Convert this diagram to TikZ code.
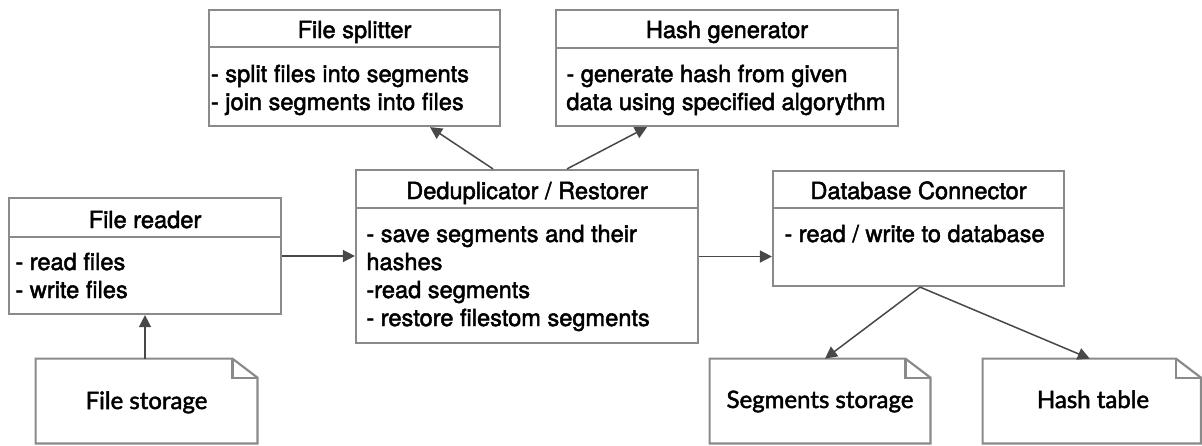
\documentclass[tikz,border=0pt]{standalone}
\usepackage{fontspec}
\setmainfont[FakeBold=2]{TeX Gyre Heros}
\newfontfamily\notefont[FakeBold=2]{Lato}
\usetikzlibrary{arrows.meta,fit,calc}

\definecolor{boxgray}{RGB}{138,138,138}
\definecolor{arrowgray}{RGB}{72,72,72}

\begin{document}
\begin{tikzpicture}[x=0.5pt,y=-0.5pt,
  box/.style={draw=boxgray, line width=1.1pt, inner sep=0pt, fill=white},
  sheet/.style={inner sep=0pt},
  sheetline/.style={draw=boxgray, line width=1.1pt, line join=miter},
  divider/.style={draw=boxgray, line width=1.1pt},
  title/.style={anchor=base, inner sep=0pt, font=\fontsize{11.8}{14}\selectfont},
  body/.style={anchor=base west, inner sep=0pt, font=\fontsize{11.8}{14}\selectfont},
  sheettext/.style={anchor=base, inner sep=0pt, font=\notefont\fontsize{12}{14}\selectfont},
  link/.style={draw=arrowgray, line width=0.75pt, -{Triangle[length=6pt,width=6pt]}}]

\useasboundingbox (0,0) rectangle (1202,445);

% ---- class boxes ----
\node[box, fit={(209,10)(500,126)}] (fs) {};
\draw[divider] (209,47) -- (500,47);
\node[title] at (354.5,38) {File splitter};
\node[body] at (210.5,82) {- split files into segments};
\node[body] at (210.5,110) {- join segments into files};

\node[box, fit={(556,10)(898,126)}] (hg) {};
\draw[divider] (556,48) -- (898,48);
\node[title] at (727,38) {Hash generator};
\node[body] at (566,82) {- generate hash from given};
\node[body] at (566,110) {data using specified algorythm};

\node[box, fit={(9,198)(281,314)}] (fr) {};
\draw[divider] (9,237) -- (281,237);
\node[title] at (145,228) {File reader};
\node[body] at (15,270) {- read files};
\node[body] at (15,298) {- write files};

\node[box, fit={(356,170)(698,343)}] (dd) {};
\draw[divider] (356,208) -- (698,208);
\node[title] at (527,199) {Deduplicator / Restorer};
\node[body] at (366,242) {- save segments and their};
\node[body] at (366,270) {hashes};
\node[body] at (366,298) {-read segments};
\node[body] at (366,326) {- restore filestom segments};

\node[box, fit={(773,171)(1064,286)}] (db) {};
\draw[divider] (773,208) -- (1064,208);
\node[title] at (918.5,199) {Database Connector};
\node[body] at (784,242) {- read / write to database};

% ---- storage sheets with a folded corner ----
\foreach \n/\a/\b in {fst/36/257, seg/710/930, ht/983/1200.5}{
  \node[sheet, fit={(\a,359)(\b,443)}] (\n) {};
  \draw[sheetline] (\n.south west) -- (\n.north west)
    -- ([xshift=-12.5pt]\n.north east) -- ([yshift=-9.5pt]\n.north east)
    -- (\n.south east) -- cycle;
  \draw[sheetline] ([xshift=-12.5pt]\n.north east) |- ([yshift=-9.5pt]\n.north east);
}
\node[sheettext] at (146.5,409) {File storage};
\node[sheettext] at (820,408) {Segments storage};
\node[sheettext] at (1093,408) {Hash table};

% ---- connectors ----
\draw[link] (fst.north -| fr.south) -- (fr.south);
\draw[link] (fr.east) -- (fr.east -| dd.west);
\draw[link] (dd.east) -- (dd.east -| db.west);
\draw[link] ([xshift=-17pt]dd.north) -- ([xshift=37.75pt]fs.south);
\draw[link] ([xshift=20pt]dd.north) -- ([xshift=-40pt]hg.south);
\draw[link] ([xshift=0.75pt]db.south) -- ([xshift=2.5pt]seg.north);
\draw[link] ([xshift=0.75pt]db.south) -- ([xshift=-1pt]ht.north);

\end{tikzpicture}
\end{document}
